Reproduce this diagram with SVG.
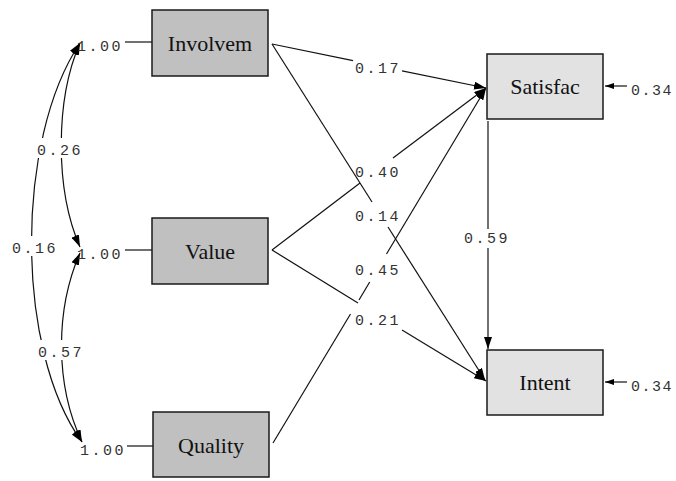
<svg xmlns="http://www.w3.org/2000/svg" width="676" height="481" viewBox="0 0 676 481">
<style>
.box1{fill:#c0c0c0;stroke:#1a1a1a;stroke-width:1.5}
.box2{fill:#e2e2e2;stroke:#1a1a1a;stroke-width:1.5}
.lbl{font-family:"Liberation Serif","Times New Roman",serif;font-size:22px;fill:#111;text-anchor:middle}
.num{font-family:"Liberation Mono","Courier New",monospace;font-size:15px;fill:#333;letter-spacing:2.5px}
.ln{fill:none;stroke:#111;stroke-width:1.2}
.bg{fill:#fff}
</style>
<defs>
<marker id="ah" viewBox="0 0 12 8" refX="12" refY="4" markerWidth="12" markerHeight="8" markerUnits="userSpaceOnUse" orient="auto-start-reverse">
<path d="M0,0 L12,4 L0,8 z" fill="#000"/>
</marker>
<marker id="ahs" viewBox="0 0 9 6" refX="9" refY="3" markerWidth="9" markerHeight="6" markerUnits="userSpaceOnUse" orient="auto-start-reverse">
<path d="M0,0 L9,3 L0,6 z" fill="#000"/>
</marker>
</defs>
<g id="connectors">
<path class="ln" d="M80,43 C55,100 55,190 80,247" marker-start="url(#ah)" marker-end="url(#ah)"/>
<path class="ln" d="M80,253 C55,310 55,385 82,442" marker-start="url(#ah)" marker-end="url(#ah)"/>
<path class="ln" d="M80,43 C15,140 15,350 82,442" marker-start="url(#ah)" marker-end="url(#ah)"/>
<line class="ln" x1="125" y1="42" x2="152" y2="42"/>
<line class="ln" x1="125" y1="250" x2="152" y2="250"/>
<line class="ln" x1="127" y1="446" x2="153" y2="446"/>
<line class="ln" x1="272" y1="44" x2="353" y2="60.7"/>
<line class="ln" x1="402" y1="70.9" x2="486" y2="88" marker-end="url(#ah)"/>
<line class="ln" x1="272" y1="44" x2="372" y2="202"/>
<line class="ln" x1="388" y1="227" x2="485" y2="380" marker-end="url(#ah)"/>
<line class="ln" x1="272" y1="250" x2="360" y2="183"/>
<line class="ln" x1="393" y1="158" x2="486" y2="88" marker-end="url(#ah)"/>
<line class="ln" x1="272" y1="250" x2="358" y2="303"/>
<line class="ln" x1="402" y1="330" x2="486" y2="381" marker-end="url(#ah)"/>
<line class="ln" x1="273" y1="443" x2="350.5" y2="314"/>
<line class="ln" x1="359" y1="300" x2="369.7" y2="282"/>
<line class="ln" x1="386.5" y1="254" x2="486" y2="88" marker-end="url(#ah)"/>
<line class="ln" x1="488" y1="121" x2="488" y2="229"/>
<line class="ln" x1="488" y1="248" x2="488" y2="349" marker-end="url(#ah)"/>
<line class="ln" x1="627" y1="86" x2="605" y2="86" marker-end="url(#ahs)"/>
<line class="ln" x1="627" y1="382" x2="605" y2="382" marker-end="url(#ahs)"/>
<rect class="bg" x="36" y="138" width="46" height="20"/>
<rect class="bg" x="10" y="236" width="46" height="20"/>
<rect class="bg" x="37" y="340" width="46" height="20"/>
<text class="num" x="77" y="51">1.00</text>
<text class="num" x="77" y="259">1.00</text>
<text class="num" x="80" y="455">1.00</text>
<text class="num" x="37" y="155">0.26</text>
<text class="num" x="12" y="253">0.16</text>
<text class="num" x="38" y="357">0.57</text>
<text class="num" x="355" y="73">0.17</text>
<text class="num" x="355" y="177">0.40</text>
<text class="num" x="355" y="221">0.14</text>
<text class="num" x="355" y="275">0.45</text>
<text class="num" x="355" y="325">0.21</text>
<text class="num" x="464" y="243">0.59</text>
<text class="num" x="631" y="95" style="letter-spacing:1.5px">0.34</text>
<text class="num" x="631" y="391" style="letter-spacing:1.5px">0.34</text>
</g>
<g id="Involvem">
<rect class="box1" x="152" y="10" width="116" height="66"/>
<text class="lbl" x="210" y="51">Involvem</text>
</g>
<g id="Value">
<rect class="box1" x="152" y="218" width="116" height="66"/>
<text class="lbl" x="210" y="259">Value</text>
</g>
<g id="Quality">
<rect class="box1" x="153" y="412" width="116" height="65"/>
<text class="lbl" x="211" y="453">Quality</text>
</g>
<g id="Satisfac">
<rect class="box2" x="487" y="54" width="116" height="65"/>
<text class="lbl" x="545" y="94">Satisfac</text>
</g>
<g id="Intent">
<rect class="box2" x="487" y="350" width="116" height="65"/>
<text class="lbl" x="545" y="390">Intent</text>
</g>
</svg>
